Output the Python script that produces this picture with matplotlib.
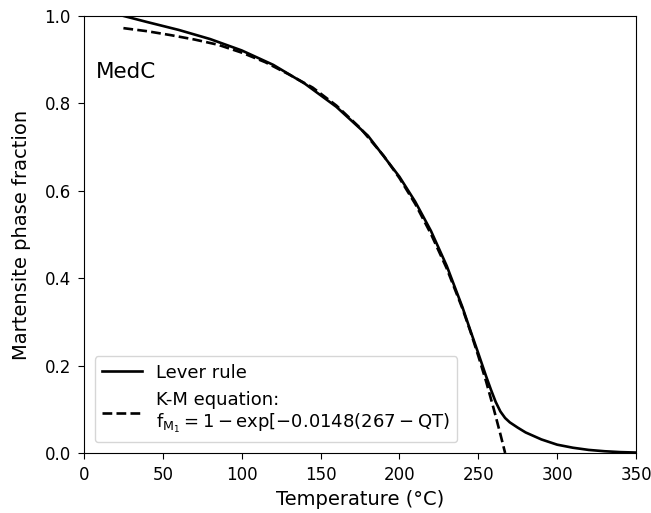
import matplotlib
matplotlib.use("Agg")
import matplotlib.pyplot as plt

plt.rcParams['mathtext.default'] = 'regular'

# Lever rule (solid)
lever_T = [25, 40, 60, 80, 100, 120, 140, 160, 180, 200, 210, 220, 230, 240, 245,
           250, 255, 258, 261, 264, 267, 270, 275, 280, 290, 300, 310, 320, 330, 340, 350]
lever_f = [1.0, 0.986, 0.968, 0.947, 0.921, 0.888, 0.845, 0.792, 0.726, 0.632, 0.575,
           0.508, 0.428, 0.333, 0.280, 0.228, 0.175, 0.145, 0.117, 0.095, 0.080, 0.070,
           0.058, 0.047, 0.031, 0.019, 0.012, 0.007, 0.004, 0.002, 0.001]

# K-M equation (dashed)
km_T = [25, 40, 55, 70, 85, 100, 115, 130, 145, 160, 175, 190, 200, 210, 220, 230,
        240, 245, 250, 255, 260, 264, 267]
km_f = [0.972, 0.965, 0.956, 0.946, 0.934, 0.916, 0.894, 0.866, 0.836, 0.795, 0.744,
        0.680, 0.629, 0.570, 0.501, 0.422, 0.330, 0.278, 0.222, 0.163, 0.098, 0.043, 0.0]

xticks = [0, 50, 100, 150, 200, 250, 300, 350]
yticks = [0.0, 0.2, 0.4, 0.6, 0.8, 1.0]

fig = plt.figure(figsize=(6.51, 5.13), dpi=100)
ax = fig.add_axes([0.129, 0.117, 0.848, 0.852])

ax.plot(lever_T, lever_f, color='black', lw=1.9, label='Lever rule')
ax.plot(km_T, km_f, color='black', lw=1.9, ls='--',
        label='K-M equation:\n$f_{M_1} = 1 - exp[-0.0148(267 - QT)$')

ax.set_xlim(0, 350)
ax.set_ylim(0, 1.0)
ax.set_xticks(xticks)
ax.set_yticks(yticks)
ax.tick_params(labelsize=12, length=4.5, pad=5)
ax.set_xlabel('Temperature (°C)', fontsize=14, labelpad=4)
ax.set_ylabel('Martensite phase fraction', fontsize=14, labelpad=9.5)
ax.text(7.5, 0.872, 'MedC', fontsize=15.5, va='center', ha='left')
ax.legend(loc='lower left', fontsize=13, handlelength=2.2, borderaxespad=0.6)

fig.savefig('out.png', dpi=100)
